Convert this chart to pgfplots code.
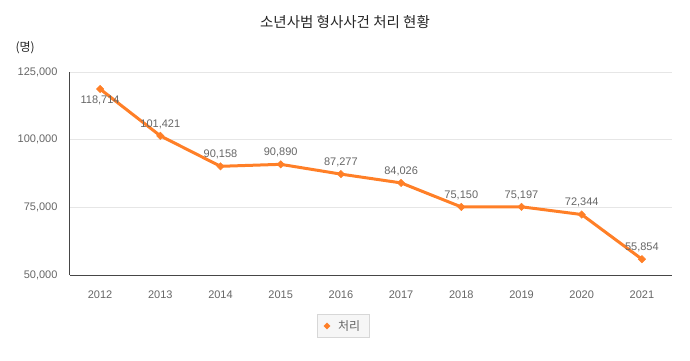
\documentclass[border=0pt]{standalone}
\usepackage{pgfplots}
\pgfplotsset{compat=1.18}
\usepackage{fontspec}
\setmainfont{Liberation Sans}
\newfontfamily\kr{Noto Sans CJK KR}
\definecolor{lineor}{RGB}{255,127,39}
\definecolor{txtgray}{RGB}{102,102,102}
\definecolor{gridgray}{RGB}{230,230,230}
\definecolor{axgray}{RGB}{70,70,70}
\begin{document}
\begin{tikzpicture}[x=1pt,y=1pt]
\path[use as bounding box] (0,0) rectangle (690,360);
\node[font=\kr\fontsize{14.5}{16}\selectfont, text=black!85] at (345,338) {소년사범 형사사건 처리 현황};
\node[font=\kr\fontsize{12}{14}\selectfont, anchor=west, text=black!85] at (12,312) {(명)};
\begin{axis}[
  at={(70pt,85pt)}, anchor=south west, scale only axis,
  width=602pt, height=203pt,
  xmin=-0.5, xmax=9.5, ymin=50000, ymax=125000,
  axis x line=bottom, axis y line=left,
  axis line style={-, axgray, line width=1pt},
  xtick={0,...,9},
  xticklabels={2012,2013,2014,2015,2016,2017,2018,2019,2020,2021},
  ytick={50000,75000,100000,125000},
  scaled y ticks=false,
  yticklabel={\pgfmathprintnumber[fixed, precision=0, 1000 sep={,}, assume math mode=true]{\tick}},
  major tick length=0pt,
  ymajorgrids, grid style={gridgray, line width=0.8pt},
  tick label style={font=\fontsize{11}{13}\selectfont, text=txtgray},
  yticklabel style={xshift=-9pt},
  xticklabel style={yshift=-12pt},
  legend style={at={(axis description cs:0.4535,-0.251)}, anchor=center,
    draw={rgb,255:red,215;green,215;blue,215}, fill={rgb,255:red,246;green,246;blue,246},
    font=\kr\fontsize{12}{14}\selectfont, text=txtgray,
    inner xsep=7pt, inner ysep=4pt},
  legend cell align=left,
  clip=false,
]
\addplot[lineor, line width=3pt, mark=square*, mark size=2.6pt, mark options={fill=lineor, draw=lineor, line width=0.5pt, rotate=45}, forget plot]
coordinates {(0,118714) (1,101421) (2,90158) (3,90890) (4,87277) (5,84026) (6,75150) (7,75197) (8,72344) (9,55854)};
\addplot[draw=none, mark=none, forget plot, point meta=y,
  nodes near coords, nodes near coords style={font=\fontsize{11}{13}\selectfont, text=txtgray, anchor=south, inner sep=0pt, yshift=7pt, /pgf/number format/.cd, fixed, precision=0, 1000 sep={,}, assume math mode=true}]
coordinates {(1,101421) (2,90158) (3,90890) (4,87277) (5,84026) (6,75150) (7,75197) (8,72344) (9,55854)};
\addplot[draw=none, mark=none, forget plot, point meta=y,
  nodes near coords, nodes near coords style={font=\fontsize{11}{13}\selectfont, text=txtgray, anchor=north, inner sep=0pt, yshift=-7pt, /pgf/number format/.cd, fixed, precision=0, 1000 sep={,}, assume math mode=true}]
coordinates {(0,118714)};
\addlegendimage{only marks, mark=square*, mark size=2.2pt, lineor, mark options={fill=lineor, rotate=45}}
\addlegendentry{\hspace{6pt}처리}
\end{axis}
\end{tikzpicture}
\end{document}
